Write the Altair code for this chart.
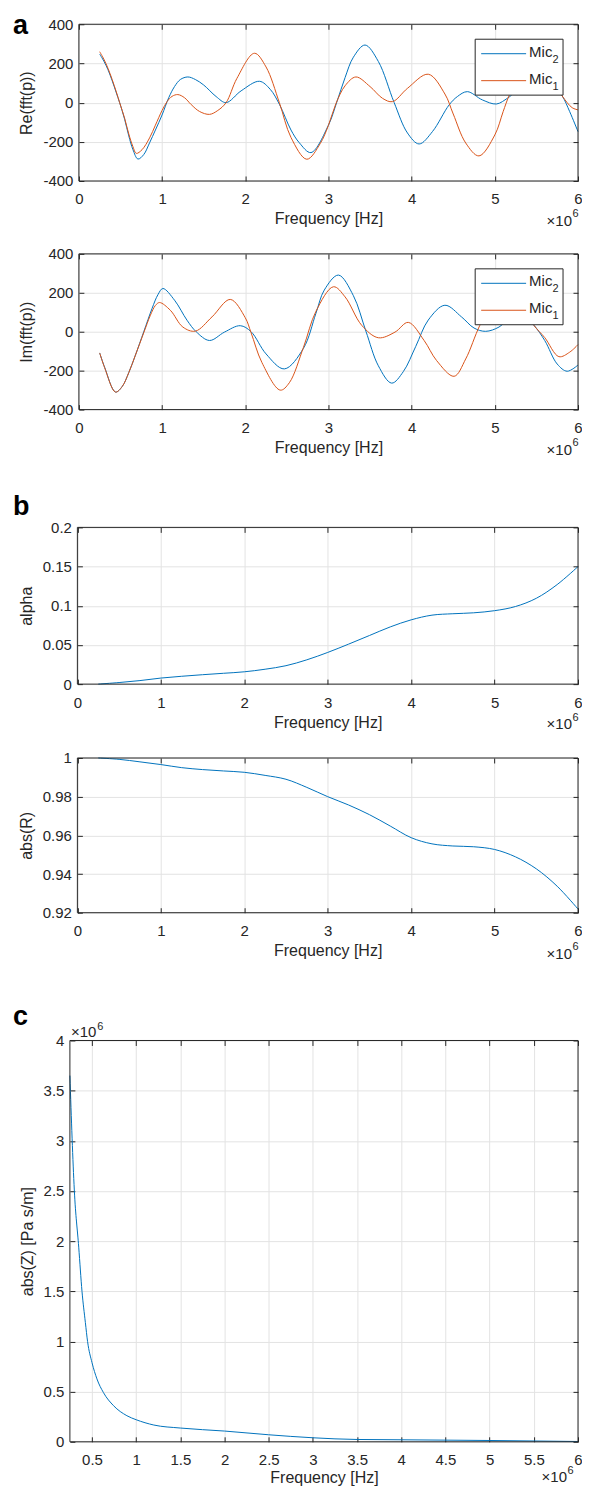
import altair as alt
import pandas as pd

FONT = "Liberation Sans"
INK = "#262626"
GRID = "#e3e3e3"
BLUE = "#0072BD"
RED = "#D95319"
FS = 15
TFS = 16
W = 509

# ---------------- data (frequency in units of 1e6 Hz) ----------------
re_mic2_f = [0.25, 0.30, 0.35, 0.40, 0.45, 0.49, 0.55, 0.60, 0.65, 0.71, 0.78, 0.85, 0.92, 1.00, 1.08,
             1.15, 1.22, 1.31, 1.40, 1.50, 1.65, 1.77, 1.95, 2.17, 2.30, 2.41, 2.55, 2.65, 2.79, 3.00,
             3.10, 3.20, 3.30, 3.44, 3.60, 3.79, 3.95, 4.09, 4.25, 4.45, 4.55, 4.67, 4.85, 5.02, 5.15,
             5.20, 5.35, 5.52, 5.68, 5.81, 5.90, 6.00]
re_mic2_v = [248, 212, 168, 112, 50, 0, -85, -170, -240, -288, -265, -205, -140, -63, 25,
             82, 118, 131, 118, 90, 31, 0, 60, 109, 68, -8, -140, -205, -255, -115,
             2, 128, 232, 294, 210, 0, -155, -211, -148, -12, 31, 56, 14, -7, 22,
             38, 95, 130, 100, 34, -46, -148]

re_mic1_f = [0.25, 0.30, 0.35, 0.40, 0.45, 0.49, 0.55, 0.60, 0.65, 0.69, 0.76, 0.85, 0.92, 1.00, 1.06,
             1.12, 1.19, 1.27, 1.35, 1.45, 1.57, 1.67, 1.77, 1.90, 2.11, 2.25, 2.41, 2.55, 2.74, 2.90,
             3.00, 3.09, 3.20, 3.33, 3.50, 3.65, 3.77, 3.95, 4.20, 4.40, 4.50, 4.65, 4.81, 5.00, 5.10,
             5.17, 5.30, 5.48, 5.65, 5.81, 5.93, 6.00]
re_mic1_v = [260, 222, 175, 118, 55, 0, -80, -160, -225, -259, -240, -180, -115, -40, 5,
             32, 41, 25, -10, -45, -60, -40, 0, 124, 252, 182, 0, -178, -289, -210,
             -116, -5, 86, 131, 82, 22, 5, 73, 145, 44, -58, -206, -272, -165, -46,
             34, 140, 210, 150, 34, -26, -37]

im_mic2_f = [0.25, 0.31, 0.44, 0.52, 0.60, 0.68, 0.78, 0.88, 0.95, 1.01, 1.15, 1.30, 1.41, 1.57, 1.75,
             1.94, 2.07, 2.25, 2.47, 2.70, 2.85, 2.95, 3.12, 3.30, 3.45, 3.60, 3.76, 3.90, 4.05, 4.20,
             4.40, 4.60, 4.75, 4.89, 5.05, 5.18, 5.28, 5.38, 5.47, 5.60, 5.75, 5.87, 6.00]
im_mic2_v = [-109, -183, -310, -282, -210, -120, 0, 120, 190, 222, 162, 59, 0, -45, -2,
             31, 0, -114, -191, -85, 95, 214, 291, 185, 3, -175, -264, -205, -75, 60,
             136, 76, 19, 2, 24, 70, 85, 65, 33, -45, -166, -203, -171]

im_mic1_f = [0.25, 0.31, 0.44, 0.52, 0.60, 0.68, 0.78, 0.86, 0.92, 0.97, 1.10, 1.25, 1.40, 1.60, 1.82,
             2.00, 2.07, 2.20, 2.42, 2.53, 2.70, 2.85, 3.06, 3.20, 3.40, 3.60, 3.80, 3.96, 4.15, 4.30,
             4.51, 4.65, 4.82, 5.00, 5.15, 5.30, 5.47, 5.60, 5.77, 5.90, 6.00]
im_mic1_v = [-109, -185, -310, -282, -210, -120, -5, 85, 135, 150, 110, 24, 3, 76, 166,
             72, -5, -158, -300, -262, -80, 105, 231, 179, 33, -31, -2, 48, -45, -148,
             -229, -140, 33, 170, 215, 160, 33, -30, -128, -105, -66]

alpha_f = [0.25, 0.50, 0.75, 1.00, 1.25, 1.50, 1.75, 2.00, 2.25, 2.50, 2.75, 3.00, 3.25, 3.50,
           3.75, 4.00, 4.25, 4.50, 4.75, 5.00, 5.25, 5.50, 5.75, 6.00]
alpha_v = [0.0, 0.002, 0.0045, 0.0077, 0.010, 0.012, 0.0138, 0.0157, 0.019, 0.0235, 0.031, 0.0404,
           0.051, 0.062, 0.073, 0.082, 0.088, 0.0898, 0.0910, 0.0937, 0.0990, 0.1095, 0.1270, 0.150]

absr_f = alpha_f
absr_v = [1.0, 0.9993, 0.998, 0.9966, 0.995, 0.994, 0.9933, 0.9926, 0.991, 0.989, 0.9848, 0.9800,
          0.9757, 0.9707, 0.9648, 0.9588, 0.9556, 0.9545, 0.9541, 0.9527, 0.9489, 0.9427, 0.9337, 0.9219]

z_f = [0.25, 0.30, 0.35, 0.387, 0.425, 0.45, 0.50, 0.556, 0.63, 0.744, 0.895, 1.00, 1.20, 1.50,
       2.00, 2.50, 3.00, 3.50, 4.00, 5.00, 6.00]
z_v = [3.65, 2.51, 1.94, 1.50, 1.19, 1.00, 0.79, 0.627, 0.49, 0.36, 0.26, 0.22, 0.167, 0.137,
       0.107, 0.07, 0.04, 0.023, 0.02, 0.013, 0.003]

series_names = ["Mic2", "Mic1"]
series_colors = [BLUE, RED]

x_ticks_ab = [0, 1, 2, 3, 4, 5, 6]
x_ticks_c = [0.5, 1, 1.5, 2, 2.5, 3, 3.5, 4, 4.5, 5, 5.5, 6]
y_ticks_ri = [-400, -200, 0, 200, 400]
y_ticks_alpha = [0, 0.05, 0.1, 0.15, 0.2]
y_ticks_absr = [0.92, 0.94, 0.96, 0.98, 1]
y_ticks_z = [0, 0.5, 1, 1.5, 2, 2.5, 3, 3.5, 4]

ONE = pd.DataFrame({"k": [0]})
LABEL = "'' + datum.value"

# page frame (relative to the first plot's origin) used to pin the SVG layout
FRAME_L, FRAME_T, FRAME_R, FRAME_B = -100, -60, 600, 1600
ORIGIN_X, ORIGIN_Y = 70, 23          # page position of the plot origin
SVG_W, SVG_H = 575, 1479
LETTER_FS = 27


def two_series(f2, v2, f1, v1):
    return pd.DataFrame({
        "f": list(f2) + list(f1),
        "v": list(v2) + list(v1),
        "s": [series_names[0]] * len(f2) + [series_names[1]] * len(f1),
    })


def one_series(f, v):
    return pd.DataFrame({"f": f, "v": v})


def text(t, x, y, size=FS, align="left", weight="normal", color=INK):
    return alt.Chart(ONE).mark_text(
        text=t, align=align, baseline="alphabetic", font=FONT, fontSize=size,
        fontWeight=weight, color=color
    ).encode(x=alt.value(x), y=alt.value(y))


def legend_layers():
    layers = [alt.Chart(ONE).mark_rect(fill="white", stroke=INK, strokeWidth=1).encode(
        x=alt.value(406), x2=alt.value(494), y=alt.value(15), y2=alt.value(71))]
    subs = ["2", "1"]
    for i, (c, s) in enumerate(zip(series_colors, subs)):
        yl = 29.5 + 27 * i
        layers.append(alt.Chart(ONE).mark_rule(color=c, strokeWidth=1).encode(
            x=alt.value(412), x2=alt.value(457), y=alt.value(yl)))
        layers.append(text("Mic", 460, 32.5 + 27 * i, size=15))
        layers.append(text(s, 483.5, 38.5 + 27 * i, size=11))
    return layers


def panel(data, multi, x_dom, x_ticks, y_dom, y_ticks, y_title, x0, h, extras,
          interp="catmull-rom", title_pad=4):
    xs = alt.Scale(domain=x_dom, range=[x0, W], nice=False, zero=False)
    ys = alt.Scale(domain=y_dom, nice=False, zero=False)
    x_axis = alt.Axis(orient="bottom", values=x_ticks, offset=-5, tickSize=5, tickColor=INK,
                      tickWidth=1, domain=False, grid=True, gridColor=GRID, gridWidth=1,
                      labelExpr=LABEL, labelFont=FONT, labelFontSize=FS, labelColor=INK,
                      labelPadding=11, labelFlush=False, labelOverlap=False,
                      title="Frequency [Hz]", titleFont=FONT, titleFontSize=TFS,
                      titleFontWeight="normal", titleColor=INK, titlePadding=title_pad)
    y_axis = alt.Axis(orient="left", values=y_ticks, offset=-(x0 + 5), tickSize=5, tickColor=INK,
                      tickWidth=1, domain=False, grid=True, gridColor=GRID, gridWidth=1,
                      labelExpr=LABEL, labelFont=FONT, labelFontSize=FS, labelColor=INK,
                      labelPadding=6, labelFlush=False, labelOverlap=False,
                      title=y_title, titleFont=FONT, titleFontSize=TFS,
                      titleFontWeight="normal", titleColor=INK, titlePadding=8)
    enc = dict(x=alt.X("f:Q", scale=xs, axis=x_axis), y=alt.Y("v:Q", scale=ys, axis=y_axis))
    if multi:
        lines = alt.Chart(data).mark_line(strokeWidth=1, interpolate=interp).encode(
            color=alt.Color("s:N", scale=alt.Scale(domain=series_names, range=series_colors),
                            legend=None, sort=series_names), **enc)
    else:
        lines = alt.Chart(data).mark_line(strokeWidth=1, interpolate=interp, color=BLUE).encode(**enc)

    box_df = pd.DataFrame({"x0": [x_dom[0]], "x1": [x_dom[1]], "y0": [y_dom[0]], "y1": [y_dom[1]]})
    top_axis = alt.Axis(orient="top", values=x_ticks, offset=-5, tickSize=5, tickColor=INK,
                        tickWidth=1, domain=False, grid=False, labels=False, title=None)
    right_axis = alt.Axis(orient="right", values=y_ticks, offset=-5, tickSize=5, tickColor=INK,
                          tickWidth=1, domain=False, grid=False, labels=False, title=None)
    box = alt.Chart(box_df).mark_rect(fillOpacity=0, fill="white", stroke=INK, strokeWidth=1).encode(
        x=alt.X("x0:Q", axis=top_axis), x2="x1",
        y=alt.Y("y0:Q", axis=right_axis), y2="y1")
    return alt.layer(lines, box, *extras).resolve_axis(x="independent", y="independent").properties(
        width=W, height=h)


def spacer(h):
    return alt.Chart(ONE).mark_point(opacity=0).encode(
        x=alt.value(0), y=alt.value(0)).properties(width=W, height=h)


def x10_bottom(h, xr, dy):
    return [text("\u00d710", xr, h + dy, size=15, align="right"),
            text("6", xr + 0.5, h + dy - 8.5, size=11)]


frame = alt.Chart(ONE).mark_rect(opacity=0).encode(
    x=alt.value(FRAME_L), x2=alt.value(FRAME_R), y=alt.value(FRAME_T), y2=alt.value(FRAME_B))

A1_H, A2_H, B1_H, B2_H, C_H = 157, 156, 157, 155, 402

a1 = panel(two_series(re_mic2_f, re_mic2_v, re_mic1_f, re_mic1_v), True, [0, 6], x_ticks_ab,
           [-400, 400], y_ticks_ri, "Re(fft(p))", 9, A1_H,
           [frame] + legend_layers() + x10_bottom(A1_H, 503, 45) +
           [text("a", -57, 10, size=LETTER_FS, weight="bold", color="black")])
a2 = panel(two_series(im_mic2_f, im_mic2_v, im_mic1_f, im_mic1_v), True, [0, 6], x_ticks_ab,
           [-400, 400], y_ticks_ri, "Im(fft(p))", 9, A2_H,
           legend_layers() + x10_bottom(A2_H, 503, 45))
b1 = panel(one_series(alpha_f, alpha_v), False, [0, 6], x_ticks_ab,
           [0, 0.2], y_ticks_alpha, "alpha", 7.5, B1_H,
           x10_bottom(B1_H, 503, 45) +
           [text("b", -57, -12, size=LETTER_FS, weight="bold", color="black")])
b2 = panel(one_series(absr_f, absr_v), False, [0, 6], x_ticks_ab,
           [0.92, 1], y_ticks_absr, "abs(R)", 7.5, B2_H,
           x10_bottom(B2_H, 503, 46))
c = panel(one_series(z_f, z_v), False, [0.25, 6], x_ticks_c,
          [0, 4], y_ticks_z, "abs(Z) [Pa s/m]", 0, C_H,
          x10_bottom(C_H, 498, 40.5) +
          [text("\u00d710", 1, -3, size=15), text("6", 27.5, -11, size=11),
           text("c", -57, -16, size=LETTER_FS, weight="bold", color="black")],
          interp="monotone", title_pad=1.5)

pad_l = ORIGIN_X - 8 + FRAME_L
pad_t = ORIGIN_Y - 8 + FRAME_T
pad_r = SVG_W - (FRAME_R - FRAME_L) - pad_l
pad_b = SVG_H - (FRAME_B - FRAME_T) - pad_t

chart = alt.vconcat(a1, spacer(73), a2, spacer(118), b1, spacer(74), b2, spacer(128), c,
                    spacing=0, bounds="flush").properties(
    padding={"left": pad_l, "top": pad_t, "right": pad_r, "bottom": pad_b}
).configure(font=FONT, view=alt.ViewConfig(strokeWidth=0))

chart.save("out.html", embed_options={"renderer": "svg", "actions": False})
